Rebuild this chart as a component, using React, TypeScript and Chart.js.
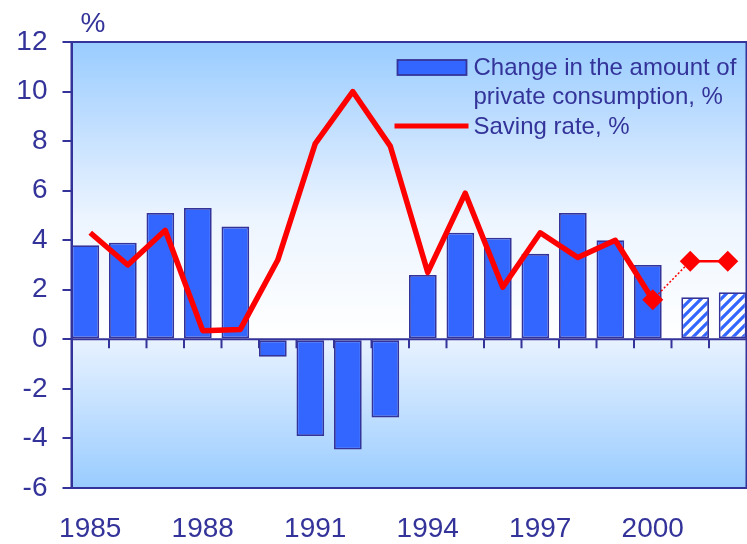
import React, { useEffect, useRef } from 'react';
import { Chart, registerables } from 'chart.js';
Chart.register(...registerables);

const years = ['1985','1986','1987','1988','1989','1990','1991','1992','1993','1994','1995','1996','1997','1998','1999','2000','2001','2002'];
const consumption = [3.8, 3.9, 5.1, 5.3, 4.55, -0.7, -3.9, -4.45, -3.15, 2.6, 4.3, 4.1, 3.45, 5.1, 4.0, 3.0, null, null];
const consumptionForecast = [null, null, null, null, null, null, null, null, null, null, null, null, null, null, null, null, 1.7, 1.9];
const savingRate = [4.3, 3.0, 4.4, 0.35, 0.4, 3.2, 7.9, 10.0, 7.8, 2.7, 5.9, 2.1, 4.3, 3.3, 4.0, 1.6, null, null];
const savingForecast = [null, null, null, null, null, null, null, null, null, null, null, null, null, null, null, 1.6, 3.15, 3.15];
const yMin = -6;
const yMax = 12;
const yStep = 2;
const legendBarLabel = ['Change in the amount of', 'private consumption, %'];
const legendLineLabel = 'Saving rate, %';
const unitLabel = '%';

const TEXT = '#333399';
const BAR = '#3366FF';
const BAR_BORDER = '#333399';
const RED = '#FF0000';
const FONT = "'Liberation Sans', Arial, sans-serif";

function makeHatch(): CanvasPattern | string {
  const c = document.createElement('canvas');
  const s = 10;
  c.width = s; c.height = s;
  const g = c.getContext('2d');
  if (!g) return BAR;
  g.fillStyle = '#FFFFFF';
  g.fillRect(0, 0, s, s);
  g.strokeStyle = BAR;
  g.lineWidth = 3.2;
  g.beginPath();
  g.moveTo(-s, s); g.lineTo(s, -s);
  g.moveTo(0, s); g.lineTo(s, 0);
  g.moveTo(0, 2 * s); g.lineTo(2 * s, 0);
  g.stroke();
  return g.createPattern(c, 'repeat') || BAR;
}

const bgPlugin = {
  id: 'bgPlugin',
  beforeDraw(chart: any) {
    const { ctx, chartArea: a, scales } = chart;
    const z = scales.y.getPixelForValue(0);
    ctx.save();
    const g1 = ctx.createLinearGradient(0, a.top, 0, z);
    g1.addColorStop(0, '#99CCFF');
    g1.addColorStop(0.3, '#C4E0FF');
    g1.addColorStop(0.6, '#EDF5FF');
    g1.addColorStop(1, '#FFFFFF');
    ctx.fillStyle = g1;
    ctx.fillRect(a.left, a.top, a.right - a.left, z - a.top);
    const g2 = ctx.createLinearGradient(0, z, 0, a.bottom);
    g2.addColorStop(0, '#E8F2FF');
    g2.addColorStop(1, '#99CCFF');
    ctx.fillStyle = g2;
    ctx.fillRect(a.left, z, a.right - a.left, a.bottom - z);
    ctx.restore();
  },
  beforeDatasetsDraw(chart: any) {
    const { ctx, chartArea: a, scales } = chart;
    const z = scales.y.getPixelForValue(0);
    const x = scales.x;
    ctx.save();
    ctx.strokeStyle = TEXT;
    ctx.lineWidth = 2;
    ctx.beginPath();
    ctx.rect(a.left, a.top, a.right - a.left, a.bottom - a.top);
    ctx.moveTo(a.left, z); ctx.lineTo(a.right, z);
    const n = years.length;
    for (let i = 1; i < n; i++) {
      const px = (x.getPixelForValue(i - 1) + x.getPixelForValue(i)) / 2;
      ctx.moveTo(px, z); ctx.lineTo(px, z + 9);
    }
    ctx.stroke();
    ctx.restore();
  },
  afterDatasetsDraw(chart: any) {
    const { ctx, chartArea: a } = chart;
    ctx.save();
    const sx = a.right - 350;
    ctx.fillStyle = BAR;
    ctx.fillRect(sx + 1, 60, 69, 15);
    ctx.strokeStyle = BAR_BORDER;
    ctx.lineWidth = 1.8;
    ctx.strokeRect(sx + 1, 60, 69, 15);
    ctx.strokeStyle = RED;
    ctx.lineWidth = 5;
    ctx.beginPath();
    ctx.moveTo(sx - 2, 126); ctx.lineTo(sx + 72, 126);
    ctx.stroke();
    ctx.fillStyle = TEXT;
    ctx.font = `24px ${FONT}`;
    ctx.textAlign = 'left';
    ctx.textBaseline = 'middle';
    ctx.fillText(legendBarLabel[0], sx + 77, 68);
    ctx.fillText(legendBarLabel[1], sx + 77, 97.5);
    ctx.fillText(legendLineLabel, sx + 77, 127);
    ctx.restore();
  },
  afterDraw(chart: any) {
    const { ctx, chartArea: a } = chart;
    ctx.save();
    ctx.fillStyle = TEXT;
    ctx.font = `28px ${FONT}`;
    ctx.textAlign = 'left';
    ctx.textBaseline = 'middle';
    ctx.fillText(unitLabel, a.left + 9, 24);
    ctx.restore();
  },
};

export default function App() {
  const ref = useRef<HTMLCanvasElement>(null);
  useEffect(() => {
    if (!ref.current) return;
    const hatch = makeHatch();
    const chart = new Chart(ref.current, {
      type: 'bar',
      data: {
        labels: years,
        datasets: [
          {
            type: 'line',
            data: savingRate,
            borderColor: RED,
            backgroundColor: RED,
            borderWidth: 5.5,
            pointRadius: 0,
            tension: 0,
            borderJoinStyle: 'round',
            order: 0,
          } as any,
          {
            type: 'line',
            data: savingForecast,
            borderColor: RED,
            backgroundColor: RED,
            borderWidth: 2.5,
            pointStyle: 'rectRot',
            pointRadius: 10.5,
            pointBackgroundColor: RED,
            pointBorderColor: RED,
            pointBorderWidth: 0,
            tension: 0,
            segment: {
              borderDash: (c: any) => (c.p0DataIndex === 15 ? [2, 2] : undefined),
              borderWidth: (c: any) => (c.p0DataIndex === 15 ? 1.5 : 2.5),
            },
            order: 0,
          } as any,
          {
            type: 'bar',
            data: consumption,
            backgroundColor: BAR,
            borderColor: BAR_BORDER,
            borderWidth: 1.8,
            borderSkipped: false,
            categoryPercentage: 0.522,
            barPercentage: 2.83,
            order: 1,
          } as any,
          {
            type: 'bar',
            data: consumptionForecast,
            backgroundColor: hatch,
            borderColor: BAR_BORDER,
            borderWidth: 1.8,
            borderSkipped: false,
            categoryPercentage: 0.522,
            barPercentage: 2.83,
            order: 1,
          } as any,
        ],
      },
      options: {
        animation: false,
        responsive: false,
        layout: { autoPadding: false, padding: { top: 42, right: 0.5, left: 0, bottom: 0 } },
        plugins: { legend: { display: false }, tooltip: { enabled: false } },
        scales: {
          x: {
            grid: { display: false, drawTicks: false },
            border: { display: false },
            ticks: {
              color: TEXT,
              font: { family: FONT, size: 28 },
              autoSkip: false,
              maxRotation: 0,
              minRotation: 0,
              padding: 24,
              callback: (_v: any, i: number) => (i % 3 === 0 ? years[i] : ''),
            },
            afterFit: (s: any) => { s.height = 56; s.paddingLeft = 0; s.paddingRight = 0; },
          },
          y: {
            min: yMin,
            max: yMax,
            ticks: { stepSize: yStep, color: TEXT, font: { family: FONT, size: 28 }, padding: 15 },
            grid: { drawOnChartArea: false, color: TEXT, lineWidth: 2, tickLength: 9 },
            border: { display: true, color: TEXT, width: 2 },
            afterFit: (s: any) => { s.width = 71.5; s.paddingTop = 0; s.paddingBottom = 0; },
          },
        },
      } as any,
      plugins: [bgPlugin],
    });
    return () => chart.destroy();
  }, []);
  return (
    <div style={{ position: 'absolute', left: 0, top: 0, width: 747, height: 544, background: '#fff' }}>
      <canvas ref={ref} width={747} height={544} style={{ display: 'block' }} />
    </div>
  );
}
